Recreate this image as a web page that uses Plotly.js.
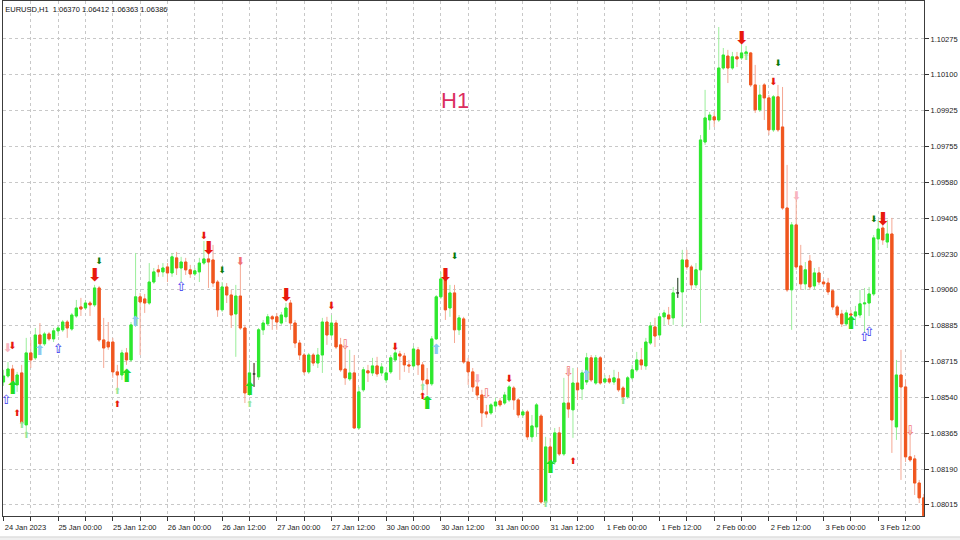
<!DOCTYPE html>
<html>
<head>
<meta charset="utf-8">
<script src="https://cdn.plot.ly/plotly-3.0.1.min.js"></script>
<style>html,body{margin:0;padding:0;background:#fff;}#chart{width:960px;height:540px;}</style>
</head>
<body>
<div id="chart"></div>
<script>
// ---- EURUSD H1 bars (index 0 = 24 Jan 2023 12:00) ----
const barOpen = [
1.08611,1.08640,1.08674,1.08597,1.08655,1.08403,1.08752,1.08728,1.08839,1.08796,
1.08844,1.08820,1.08859,1.08864,1.08902,1.08868,1.08931,1.08975,1.08970,1.08994,
1.08985,1.09067,1.08815,1.08805,1.08805,1.08660,1.08645,1.08752,1.08718,1.08888,
1.09024,1.09014,1.08994,1.09096,1.09155,1.09145,1.09169,1.09140,1.09213,1.09164,
1.09193,1.09155,1.09135,1.09145,1.09188,1.09208,1.09203,1.09096,1.08961,1.09072,
1.09033,1.08941,1.09028,1.08873,1.08558,1.08650,1.08636,1.08864,1.08893,1.08927,
1.08927,1.08897,1.08927,1.08994,1.08897,1.08800,1.08742,1.08660,1.08742,1.08703,
1.08742,1.08902,1.08839,1.08897,1.08791,1.08674,1.08626,1.08655,1.08388,1.08573,
1.08665,1.08655,1.08689,1.08655,1.08621,1.08660,1.08718,1.08747,1.08737,1.08694,
1.08689,1.08767,1.08694,1.08621,1.08602,1.08820,1.09024,1.09106,1.08970,1.09043,
1.08864,1.08917,1.08708,1.08660,1.08587,1.08548,1.08466,1.08461,1.08495,1.08519,
1.08509,1.08524,1.08582,1.08524,1.08451,1.08466,1.08345,1.08393,1.08446,1.08029,
1.08296,1.08223,1.08364,1.08262,1.08509,1.08476,1.08606,1.08577,1.08611,1.08728,
1.08606,1.08728,1.08611,1.08626,1.08611,1.08626,1.08582,1.08539,1.08631,1.08670,
1.08718,1.08689,1.08800,1.08878,1.08839,1.08927,1.08936,1.08922,1.09043,1.09048,
1.09203,1.09169,1.09082,1.09155,1.09775,1.09882,1.09897,1.09882,1.10134,1.10192,
1.10134,1.10188,1.10183,1.10202,1.10207,1.10052,1.09931,1.10052,1.09989,1.09834,
1.09994,1.09848,1.09455,1.09058,1.09373,1.09174,1.09087,1.09198,1.09077,1.09140,
1.09096,1.09091,1.09053,1.08975,1.08941,1.08893,1.08941,1.08931,1.08936,1.08990,
1.08994,1.09038,1.09305,1.09358,1.09290,1.09329,1.08393,1.08645,1.08587,1.08248,
1.08238,1.08121,1.08049];
const barHigh = [
1.08670,1.08708,1.08694,1.08660,1.08694,1.08825,1.08815,1.08873,1.08897,1.08854,
1.08854,1.08873,1.08883,1.08912,1.08912,1.08946,1.09009,1.09019,1.09009,1.09004,
1.09082,1.09077,1.08922,1.08902,1.08825,1.08694,1.08767,1.08776,1.08902,1.09237,
1.09043,1.09038,1.09188,1.09164,1.09179,1.09188,1.09188,1.09237,1.09242,1.09218,
1.09213,1.09179,1.09164,1.09213,1.09295,1.09281,1.09276,1.09106,1.09096,1.09091,
1.09058,1.09082,1.09193,1.08888,1.08718,1.08703,1.08873,1.08912,1.08941,1.08936,
1.08946,1.08951,1.08994,1.09009,1.08912,1.08815,1.08752,1.08752,1.08752,1.08776,
1.08922,1.08927,1.08936,1.08912,1.08825,1.08791,1.08767,1.08742,1.08587,1.08684,
1.08694,1.08728,1.08733,1.08703,1.08670,1.08742,1.08767,1.08762,1.08752,1.08718,
1.08786,1.08781,1.08708,1.08679,1.08834,1.09033,1.09145,1.09130,1.09082,1.09082,
1.08936,1.08927,1.08728,1.08679,1.08606,1.08573,1.08500,1.08509,1.08534,1.08534,
1.08563,1.08597,1.08592,1.08534,1.08476,1.08476,1.08451,1.08509,1.08456,1.08345,
1.08340,1.08388,1.08393,1.08631,1.08679,1.08679,1.08679,1.08670,1.08752,1.08742,
1.08742,1.08737,1.08645,1.08645,1.08670,1.08660,1.08592,1.08640,1.08694,1.08757,
1.08776,1.08825,1.08902,1.08922,1.08946,1.08961,1.08975,1.09072,1.09116,1.09252,
1.09252,1.09179,1.09188,1.09809,1.10028,1.09921,1.09921,1.10333,1.10231,1.10222,
1.10212,1.10212,1.10246,1.10241,1.10212,1.10149,1.10052,1.10061,1.10003,1.10003,
1.10052,1.10042,1.09664,1.09387,1.09528,1.09276,1.09193,1.09227,1.09164,1.09169,
1.09111,1.09116,1.09062,1.08985,1.08961,1.08961,1.08961,1.08980,1.09058,1.09067,
1.09072,1.09324,1.09397,1.09387,1.09397,1.09407,1.08718,1.08767,1.08621,1.08379,
1.08257,1.08136,1.08068];
const barLow = [
1.08592,1.08631,1.08587,1.08563,1.08403,1.08369,1.08679,1.08718,1.08767,1.08786,
1.08810,1.08805,1.08834,1.08854,1.08825,1.08859,1.08922,1.08931,1.08961,1.08931,
1.08975,1.08805,1.08679,1.08767,1.08631,1.08573,1.08621,1.08694,1.08708,1.08878,
1.08742,1.08946,1.08985,1.09087,1.09121,1.09121,1.09096,1.09121,1.09130,1.09096,
1.09130,1.09116,1.09125,1.09096,1.09179,1.09067,1.09072,1.08927,1.08951,1.08994,
1.08873,1.08733,1.08864,1.08509,1.08543,1.08587,1.08621,1.08839,1.08883,1.08864,
1.08864,1.08888,1.08902,1.08864,1.08776,1.08718,1.08645,1.08650,1.08689,1.08679,
1.08655,1.08791,1.08825,1.08771,1.08660,1.08597,1.08616,1.08383,1.08379,1.08563,
1.08611,1.08640,1.08636,1.08640,1.08606,1.08650,1.08708,1.08621,1.08660,1.08655,
1.08679,1.08645,1.08563,1.08548,1.08592,1.08815,1.09014,1.08912,1.08927,1.08800,
1.08839,1.08699,1.08597,1.08563,1.08524,1.08393,1.08437,1.08451,1.08476,1.08490,
1.08500,1.08514,1.08476,1.08437,1.08437,1.08330,1.08320,1.08345,1.08020,1.08015,
1.08209,1.08209,1.08252,1.08252,1.08437,1.08340,1.08524,1.08524,1.08597,1.08611,
1.08597,1.08597,1.08602,1.08602,1.08597,1.08563,1.08524,1.08529,1.08621,1.08660,
1.08670,1.08670,1.08791,1.08781,1.08825,1.08888,1.08888,1.08888,1.09019,1.08878,
1.09155,1.09058,1.09067,1.08897,1.09761,1.09834,1.09848,1.09872,1.10125,1.10061,
1.10125,1.10139,1.10173,1.10192,1.10042,1.09916,1.09921,1.09882,1.09809,1.09824,
1.09824,1.09446,1.09048,1.08864,1.09155,1.09058,1.09058,1.09058,1.09058,1.09082,
1.09072,1.09033,1.08961,1.08922,1.08878,1.08883,1.08873,1.08888,1.08922,1.08849,
1.08931,1.09028,1.09252,1.09276,1.09261,1.08267,1.08330,1.08136,1.08223,1.08223,
1.08063,1.08024,1.07942];
const barClose = [
1.08640,1.08674,1.08597,1.08645,1.08412,1.08752,1.08718,1.08839,1.08796,1.08844,
1.08820,1.08859,1.08873,1.08902,1.08873,1.08936,1.08970,1.08965,1.08994,1.08985,
1.09067,1.08815,1.08776,1.08781,1.08660,1.08645,1.08752,1.08718,1.08888,1.09024,
1.08999,1.08994,1.09096,1.09145,1.09145,1.09164,1.09140,1.09218,1.09164,1.09193,
1.09155,1.09135,1.09150,1.09188,1.09208,1.09193,1.09091,1.08961,1.09072,1.09033,
1.08936,1.09028,1.08873,1.08558,1.08655,1.08650,1.08864,1.08897,1.08927,1.08917,
1.08902,1.08936,1.08970,1.08897,1.08800,1.08742,1.08660,1.08742,1.08703,1.08742,
1.08902,1.08839,1.08897,1.08781,1.08670,1.08631,1.08655,1.08388,1.08563,1.08670,
1.08655,1.08689,1.08650,1.08684,1.08655,1.08728,1.08752,1.08737,1.08694,1.08689,
1.08771,1.08694,1.08621,1.08602,1.08820,1.09024,1.09111,1.08961,1.09043,1.08864,
1.08922,1.08708,1.08660,1.08587,1.08548,1.08461,1.08456,1.08500,1.08514,1.08500,
1.08548,1.08587,1.08524,1.08451,1.08466,1.08345,1.08398,1.08500,1.08029,1.08296,
1.08223,1.08364,1.08262,1.08509,1.08480,1.08606,1.08573,1.08655,1.08728,1.08621,
1.08728,1.08606,1.08626,1.08611,1.08631,1.08573,1.08539,1.08631,1.08670,1.08718,
1.08694,1.08805,1.08883,1.08834,1.08927,1.08946,1.08917,1.09043,1.09043,1.09203,
1.09169,1.09082,1.09155,1.09785,1.09892,1.09906,1.09882,1.10134,1.10197,1.10134,
1.10188,1.10178,1.10207,1.10212,1.10052,1.09931,1.10003,1.09989,1.09834,1.09994,
1.09834,1.09455,1.09058,1.09373,1.09169,1.09087,1.09155,1.09072,1.09140,1.09096,
1.09087,1.09048,1.08975,1.08936,1.08893,1.08946,1.08936,1.08951,1.08990,1.08994,
1.09038,1.09310,1.09353,1.09300,1.09329,1.08427,1.08645,1.08587,1.08248,1.08233,
1.08121,1.08049,1.07962];

// ---- axis labels ----
const xTickLabels = ['24 Jan 2023','25 Jan 00:00','25 Jan 12:00','26 Jan 00:00','26 Jan 12:00',
  '27 Jan 00:00','27 Jan 12:00','30 Jan 00:00','30 Jan 12:00','31 Jan 00:00','31 Jan 12:00',
  '1 Feb 00:00','1 Feb 12:00','2 Feb 00:00','2 Feb 12:00','3 Feb 00:00','3 Feb 12:00'];
const yTickLabels = ['1.08015','1.08190','1.08365','1.08540','1.08715','1.08885','1.09060',
  '1.09230','1.09405','1.09580','1.09755','1.09925','1.10100','1.10275'];
const chartTitle = 'EURUSD,H1\u00a0\u00a01.06370 1.06412 1.06363 1.06386';
const periodLabel = 'H1';

// ---- indicator arrows: bar index + price ----
const bigDownRedIdx = [20,45,62,97,162,193];
const bigDownRedPx  = [1.09125,1.09252,1.09028,1.09121,1.10270,1.09392];
const smallDownRedIdx = [2,44,72,86,111,169];
const smallDownRedPx  = [1.08781,1.09315,1.08975,1.08776,1.08621,1.10066];
const lightDownRedIdx = [52];
const lightDownRedPx  = [1.09193];
const darkGreenDownIdx = [21,48,99,170,191];
const darkGreenDownPx  = [1.09194,1.09150,1.09218,1.10154,1.09397];
const bigUpGreenIdx = [2,27,54,93,120,186];
const bigUpGreenPx  = [1.08573,1.08631,1.08568,1.08500,1.08190,1.08888];
const smallUpRedIdx = [3,25,92,125];
const smallUpRedPx  = [1.08456,1.08500,1.08539,1.08223];
const lightUpGreenIdx = [4,5,25,54,92,119,136,163];
const lightUpGreenPx  = [1.08398,1.08350,1.08563,1.08500,1.08583,1.08015,1.08514,1.10183];
const hollowUpBlueIdx = [0.6,12,39,189,190];
const hollowUpBluePx  = [1.08519,1.08767,1.09067,1.08825,1.08849];
const skyUpIdx = [8,29,95,128];
const skyUpPx  = [1.08757,1.08902,1.08762,1.08636];
const hollowDownPinkIdx = [75,106,124,199];
const hollowDownPinkPx  = [1.08786,1.08548,1.08655,1.08369];
const softDownPinkIdx = [0.9,104,174];
const softDownPinkPx  = [1.08771,1.08621,1.09509];

const idx = barOpen.map((_, i) => i);
const isDoji = idx.map(i => barOpen[i] === barClose[i]);
const bodyIdx = idx.filter(i => !isDoji[i]);
const dojiIdx = idx.filter(i => isDoji[i]);

const bullBody = '#2EE82E', bearBody = '#F0561E';
const bullWick = '#9BEE9B', bearWick = '#F5A894';

const traces = [];
// wicks (full range, light colours)
traces.push({
  type: 'candlestick', x: idx, open: barOpen, high: barHigh, low: barLow, close: barClose,
  increasing: {line: {color: bullWick, width: 1}, fillcolor: bullWick},
  decreasing: {line: {color: bearWick, width: 1}, fillcolor: bearWick},
  whiskerwidth: 0, hoverinfo: 'skip', showlegend: false
});
// bodies
traces.push({
  type: 'candlestick', x: bodyIdx,
  open: bodyIdx.map(i => barOpen[i]), close: bodyIdx.map(i => barClose[i]),
  high: bodyIdx.map(i => Math.max(barOpen[i], barClose[i])),
  low: bodyIdx.map(i => Math.min(barOpen[i], barClose[i])),
  increasing: {line: {color: bullBody, width: 1}, fillcolor: bullBody},
  decreasing: {line: {color: bearBody, width: 1}, fillcolor: bearBody},
  whiskerwidth: 0, hoverinfo: 'skip', showlegend: false
});
// doji bars
traces.push({
  type: 'candlestick', x: dojiIdx,
  open: dojiIdx.map(i => barOpen[i]), close: dojiIdx.map(i => barClose[i]),
  high: dojiIdx.map(i => barHigh[i]), low: dojiIdx.map(i => barLow[i]),
  increasing: {line: {color: '#3a3a3a', width: 1}, fillcolor: '#3a3a3a'},
  decreasing: {line: {color: '#3a3a3a', width: 1}, fillcolor: '#3a3a3a'},
  whiskerwidth: 0, hoverinfo: 'skip', showlegend: false
});

function arrows(xs, ys, glyph, size, color) {
  traces.push({
    type: 'scatter', mode: 'text', x: xs, y: ys,
    text: xs.map(() => glyph), textposition: 'middle center',
    textfont: {family: 'DejaVu Sans', size: size, color: color},
    hoverinfo: 'skip', showlegend: false, cliponaxis: false
  });
}
arrows(bigDownRedIdx, bigDownRedPx, '\u2B07', 18, '#E8180C');
arrows(smallDownRedIdx, smallDownRedPx, '\u2B07', 10, '#E8180C');
arrows(lightDownRedIdx, lightDownRedPx, '\u2B07', 11, '#F07070');
arrows(darkGreenDownIdx, darkGreenDownPx, '\u2B07', 9, '#0A7A0A');
arrows(bigUpGreenIdx, bigUpGreenPx, '\u2B06', 18, '#22DD22');
arrows(smallUpRedIdx, smallUpRedPx, '\u2B06', 9, '#E8180C');
arrows(lightUpGreenIdx, lightUpGreenPx, '\u2B06', 9, '#99E699');
arrows(hollowUpBlueIdx, hollowUpBluePx, '\u21E7', 13, '#3A3AF0');
arrows(skyUpIdx, skyUpPx, '\u2B06', 14, '#8CC8F0');
arrows(hollowDownPinkIdx, hollowDownPinkPx, '\u21E9', 13, '#F07878');
arrows(softDownPinkIdx, softDownPinkPx, '\u2B07', 12, '#F8B4C0');

// tick positions
const xTickVals = [], xTickText = [];
for (let k = 0; k <= 198; k += 6) {
  xTickVals.push(k);
  xTickText.push(k % 12 === 0 ? xTickLabels[k / 12] : '');
}
const yLo = parseFloat(yTickLabels[0]), yHi = parseFloat(yTickLabels[yTickLabels.length - 1]);
const yStep = (yHi - yLo) / (yTickLabels.length - 1);
const yTickVals = yTickLabels.map((_, j) => yLo + j * yStep);

const axisFont = {family: 'Liberation Sans, Arial, sans-serif', size: 7.5, color: '#1a1a1a'};

const layout = {
  width: 960, height: 540,
  margin: {l: 3, r: 36, t: 1, b: 24, pad: 0},
  paper_bgcolor: '#ffffff', plot_bgcolor: '#ffffff',
  showlegend: false,
  title: {text: chartTitle, x: 0.0055, xref: 'container', xanchor: 'left', y: 0.983, yref: 'container', yanchor: 'middle',
          font: {family: 'Liberation Sans, Arial, sans-serif', size: 7.5, color: '#111'}},
  xaxis: {
    type: 'linear', range: [-0.1, 202.05], rangeslider: {visible: false},
    tickmode: 'array', tickvals: xTickVals, ticktext: xTickText,
    ticks: 'outside', ticklen: 4, tickcolor: '#333', tickwidth: 1,
    ticklabelshift: 22, tickangle: 0,
    showgrid: true, gridcolor: '#c8c8c8', griddash: 'dot', gridwidth: 1,
    showline: true, linecolor: '#3c3c3c', linewidth: 1, mirror: true,
    zeroline: false, tickfont: axisFont, fixedrange: true
  },
  yaxis: {
    side: 'right', range: [1.07961, 1.10459],
    tickmode: 'array', tickvals: yTickVals, ticktext: yTickLabels,
    ticks: 'outside', ticklen: 4, tickcolor: '#333', tickwidth: 1,
    showgrid: true, gridcolor: '#c8c8c8', griddash: 'dot', gridwidth: 1,
    showline: true, linecolor: '#3c3c3c', linewidth: 1, mirror: true,
    zeroline: false, tickfont: axisFont, fixedrange: true
  },
  annotations: [{
    text: periodLabel, xref: 'paper', yref: 'paper', x: 0.4908, y: 0.806,
    xanchor: 'center', yanchor: 'middle', showarrow: false,
    font: {family: 'Liberation Sans, Arial, sans-serif', size: 22, color: '#DB2D5F'}
  }],
  shapes: [
    {type: 'rect', xref: 'paper', yref: 'paper', x0: -0.01, x1: 1.05, y0: -0.06, y1: -0.0407,
     fillcolor: '#f0f0f0', line: {color: '#d4d4d4', width: 1}, layer: 'below'}
  ]
};

Plotly.newPlot('chart', traces, layout, {staticPlot: true, displayModeBar: false});
</script>
</body>
</html>
